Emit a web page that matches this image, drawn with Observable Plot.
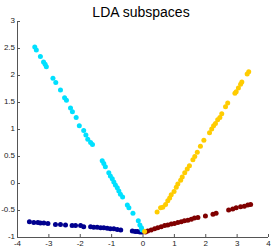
<!DOCTYPE html>
<html><head><meta charset="utf-8">
<script src="https://cdn.jsdelivr.net/npm/d3@7"></script>
<script src="https://cdn.jsdelivr.net/npm/@observablehq/plot@0.6"></script>
<style>body{margin:0;background:#fff;}</style>
</head><body><div id="chart"></div>
<script>
const title = "LDA subspaces";
const xTicks = [-4, -3, -2, -1, 0, 1, 2, 3, 4];
const yTicks = [-1, -0.5, 0, 0.5, 1, 1.5, 2, 2.5, 3];

const cyanX = [-3.45, -3.40, -3.27, -3.17, -3.12, -3.08, -2.87, -2.78, -2.63, -2.50, -2.44, -2.31, -2.25, -2.13, -2.03, -1.89, -1.82, -1.76, -1.67, -1.61, -1.30, -1.25, -1.20, -1.09, -1.04, -0.98, -0.93, -0.88, -0.82, -0.77, -0.72, -0.65, -0.50, -0.45, -0.32, -0.15, -0.10, -0.05, -0.03];
const cyanY = [2.53, 2.47, 2.35, 2.25, 2.21, 2.16, 1.95, 1.87, 1.73, 1.59, 1.54, 1.40, 1.33, 1.22, 1.07, 0.98, 0.90, 0.82, 0.76, 0.72, 0.42, 0.37, 0.31, 0.20, 0.14, 0.09, 0.03, -0.03, -0.08, -0.14, -0.20, -0.25, -0.40, -0.45, -0.55, -0.69, -0.77, -0.82, -0.86];

const goldX = [3.37, 3.32, 3.15, 3.11, 3.04, 2.97, 2.93, 2.70, 2.63, 2.51, 2.45, 2.38, 2.31, 2.25, 2.19, 2.12, 1.94, 1.83, 1.73, 1.65, 1.59, 1.48, 1.41, 1.33, 1.25, 1.20, 1.11, 1.06, 0.99, 0.90, 0.85, 0.79, 0.72, 0.63, 0.56, 0.45, 0.05];
const goldY = [2.07, 2.03, 1.88, 1.84, 1.77, 1.70, 1.67, 1.49, 1.42, 1.29, 1.22, 1.18, 1.11, 1.07, 1.01, 0.94, 0.80, 0.69, 0.58, 0.50, 0.44, 0.33, 0.27, 0.20, 0.12, 0.06, -0.01, -0.07, -0.15, -0.21, -0.27, -0.32, -0.39, -0.44, -0.45, -0.53, -0.89];

const navyX = [-3.62, -3.48, -3.35, -3.27, -3.16, -3.03, -2.79, -2.63, -2.47, -2.26, -2.15, -1.99, -1.89, -1.67, -1.57, -1.46, -1.35, -1.25, -1.14, -1.04, -0.93, -0.82, -0.71, -0.34, -0.25, -0.18, -0.10, -0.04];
const navyY = [-0.71, -0.72, -0.72, -0.73, -0.73, -0.74, -0.76, -0.76, -0.77, -0.78, -0.78, -0.78, -0.80, -0.80, -0.81, -0.81, -0.82, -0.82, -0.83, -0.84, -0.84, -0.85, -0.86, -0.88, -0.89, -0.89, -0.90, -0.90];

const redX = [0.08, 0.15, 0.26, 0.37, 0.47, 0.58, 0.69, 0.79, 0.90, 1.00, 1.11, 1.22, 1.32, 1.43, 1.54, 1.64, 1.75, 1.99, 2.23, 2.33, 2.73, 2.86, 2.97, 3.11, 3.23, 3.34, 3.43];
const redY = [-0.90, -0.88, -0.86, -0.84, -0.82, -0.80, -0.78, -0.77, -0.75, -0.74, -0.72, -0.71, -0.69, -0.68, -0.66, -0.64, -0.63, -0.60, -0.57, -0.55, -0.49, -0.47, -0.45, -0.43, -0.42, -0.40, -0.39];

const pts = (xs, ys) => xs.map((x, i) => ({x, y: ys[i]}));
const W = 274, H = 250, mL = 17, mR = 6, mT = 21, mB = 13;
const fw = W - mL - mR, fh = H - mT - mB;
const axisColor = "#555";
const fmt = d => String(d);

const chart = Plot.plot({
  width: W, height: H,
  marginLeft: mL, marginRight: mR, marginTop: mT, marginBottom: mB,
  style: {fontFamily: "Liberation Sans, Arial, sans-serif", fontSize: "8px", color: "#222", background: "#fff"},
  x: {domain: [-4, 4]},
  y: {domain: [-1, 3]},
  marks: [
    Plot.axisX({ticks: xTicks, tickSize: 0, tickPadding: 3, tickFormat: fmt, label: null}),
    Plot.axisY({ticks: yTicks, tickSize: 0, tickPadding: 2.5, tickFormat: fmt, label: null, dy: -1}),
    Plot.ruleX([-4], {stroke: axisColor}),
    Plot.ruleY([-1], {stroke: axisColor}),
    Plot.tickX(xTicks, {x: d => d, stroke: axisColor, insetTop: fh - 3}),
    Plot.tickY(yTicks, {y: d => d, stroke: axisColor, insetRight: fw - 3}),
    Plot.dot(pts(navyX, navyY), {x: "x", y: "y", r: 2.5, fill: "#00008f", stroke: "none"}),
    Plot.dot(pts(cyanX, cyanY), {x: "x", y: "y", r: 2.5, fill: "#00e0ff", stroke: "none"}),
    Plot.dot(pts(redX, redY), {x: "x", y: "y", r: 2.5, fill: "#800000", stroke: "none"}),
    Plot.dot(pts(goldX, goldY), {x: "x", y: "y", r: 2.5, fill: "#ffcc00", stroke: "none"}),
    Plot.text([title], {text: d => d, frameAnchor: "top", lineAnchor: "bottom", dy: -5, dx: -2, fontSize: 14, fill: "#000"})
  ]
});
document.getElementById("chart").appendChild(chart);
</script>
</body></html>
